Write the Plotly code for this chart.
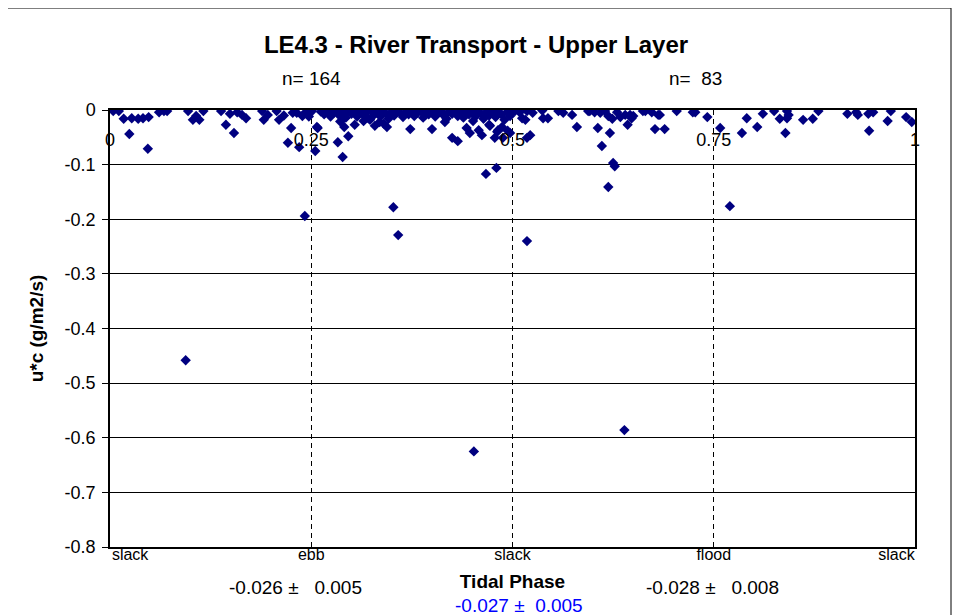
import plotly.graph_objects as go

# ---- data (tidal phase, u*c flux) ----
phase_q1 = [0.004, 0.011, 0.017, 0.024, 0.027, 0.035, 0.041, 0.047, 0.048, 0.061,
            0.067, 0.071, 0.094, 0.097, 0.103, 0.107, 0.111, 0.116, 0.138, 0.144,
            0.149, 0.154, 0.158, 0.164, 0.169, 0.189, 0.191, 0.196, 0.207, 0.210,
            0.225, 0.227, 0.221, 0.235, 0.251, 0.255, 0.257, 0.242, 0.232, 0.239,
            0.243, 0.267, 0.216, 0.247]
flux_q1 = [-0.002, -0.002, -0.016, -0.044, -0.015, -0.016, -0.015, -0.071, -0.013, -0.004,
           -0.002, -0.002, -0.458, -0.002, -0.018, -0.011, -0.018, -0.002, -0.002, -0.027,
           -0.007, -0.042, -0.004, -0.009, -0.015, -0.002, -0.018, -0.009, -0.002, -0.018,
           -0.033, -0.005, -0.060, -0.068, -0.002, -0.075, -0.031, -0.194, -0.005, -0.011,
           -0.004, -0.005, -0.010, -0.012]

phase_q2_band = [0.262, 0.266, 0.270, 0.274, 0.278, 0.282, 0.285, 0.289, 0.293, 0.296,
                 0.300, 0.304, 0.307, 0.311, 0.314, 0.318, 0.321, 0.325, 0.328, 0.332,
                 0.336, 0.339, 0.343, 0.346, 0.350, 0.353, 0.357, 0.361, 0.364, 0.368,
                 0.371, 0.375, 0.378, 0.382, 0.386, 0.389, 0.393, 0.396, 0.400, 0.404,
                 0.407, 0.411, 0.414, 0.418, 0.421, 0.425, 0.429, 0.432, 0.436, 0.439,
                 0.443, 0.446, 0.450, 0.454, 0.457, 0.461, 0.464, 0.468, 0.471, 0.475,
                 0.479, 0.482, 0.486, 0.490, 0.493, 0.497, 0.500]
flux_q2_band = [-0.003, -0.008, -0.002, -0.012, -0.005, -0.002, -0.010, -0.004, -0.014, -0.002,
                -0.007, -0.003, -0.012, -0.002, -0.008, -0.004, -0.015, -0.002, -0.009, -0.004,
                -0.012, -0.002, -0.007, -0.016, -0.003, -0.010, -0.002, -0.006, -0.013, -0.003,
                -0.008, -0.002, -0.011, -0.005, -0.002, -0.014, -0.004, -0.008, -0.002, -0.012,
                -0.005, -0.002, -0.009, -0.016, -0.003, -0.007, -0.002, -0.011, -0.004, -0.014,
                -0.002, -0.008, -0.004, -0.012, -0.002, -0.007, -0.016, -0.003, -0.010, -0.005,
                -0.013, -0.002, -0.008, -0.018, -0.004, -0.011, -0.003]

phase_q2 = [0.258, 0.291, 0.296, 0.283, 0.289, 0.304, 0.323, 0.329, 0.335, 0.344,
            0.373, 0.400, 0.416, 0.425, 0.432, 0.443, 0.451, 0.462, 0.472, 0.481,
            0.487, 0.478, 0.488, 0.447, 0.471, 0.482, 0.497, 0.352, 0.358, 0.452,
            0.467, 0.480, 0.286, 0.315, 0.340, 0.458]
flux_q2 = [-0.033, -0.031, -0.048, -0.059, -0.086, -0.027, -0.018, -0.029, -0.022, -0.031,
           -0.035, -0.035, -0.022, -0.051, -0.057, -0.033, -0.020, -0.046, -0.029, -0.040,
           -0.031, -0.051, -0.051, -0.042, -0.027, -0.037, -0.042, -0.178, -0.229, -0.625,
           -0.117, -0.106, -0.021, -0.020, -0.025, -0.037]

phase_h2 = [0.494, 0.516, 0.522, 0.518, 0.512, 0.538, 0.544, 0.580, 0.606, 0.621,
            0.611, 0.643, 0.648, 0.677, 0.689, 0.683, 0.742, 0.704, 0.727, 0.662,
            0.596, 0.625, 0.627, 0.619, 0.518, 0.639, 0.770,
            0.503, 0.509, 0.518, 0.525, 0.537, 0.557, 0.563, 0.574, 0.594, 0.602,
            0.609, 0.615, 0.619, 0.624, 0.630, 0.634, 0.640, 0.646, 0.650, 0.665,
            0.673, 0.681, 0.724,
            0.758, 0.785, 0.791, 0.804, 0.811, 0.825, 0.832, 0.839, 0.841, 0.841,
            0.843, 0.861, 0.873, 0.880, 0.916, 0.927, 0.929, 0.942, 0.943, 0.948,
            0.966, 0.970, 0.989, 0.996]
flux_h2 = [-0.038, -0.018, -0.046, -0.051, -0.015, -0.015, -0.015, -0.031, -0.033, -0.042,
           -0.066, -0.027, -0.015, -0.035, -0.035, -0.009, -0.013, -0.002, -0.004, -0.002,
           -0.002, -0.097, -0.103, -0.141, -0.240, -0.586, -0.176,
           -0.002, -0.004, -0.002, -0.005, -0.001, -0.002, -0.005, -0.009, -0.002, -0.004,
           -0.005, -0.002, -0.011, -0.016, -0.004, -0.013, -0.009, -0.009, -0.011, -0.002,
           -0.004, -0.009, -0.004,
           -0.033, -0.042, -0.015, -0.031, -0.007, -0.002, -0.016, -0.042, -0.002, -0.015,
           -0.009, -0.018, -0.016, -0.002, -0.007, -0.004, -0.009, -0.007, -0.038, -0.004,
           -0.020, -0.002, -0.013, -0.022]

phase = phase_q1 + phase_q2_band + phase_q2 + phase_h2
flux = flux_q1 + flux_q2_band + flux_q2 + flux_h2

x_ticks = [0, 0.25, 0.5, 0.75, 1]
x_ticklabels = ["0", "0.25", "0.5", "0.75", "1"]
phase_names_pos = [0.025, 0.25, 0.5, 0.75, 0.977]
phase_names = ["slack", "ebb", "slack", "flood", "slack"]
y_ticks = [0, -0.1, -0.2, -0.3, -0.4, -0.5, -0.6, -0.7, -0.8]
y_ticklabels = ["0", "-0.1", "-0.2", "-0.3", "-0.4", "-0.5", "-0.6", "-0.7", "-0.8"]

title_text = "LE4.3 - River Transport - Upper Layer"
n_labels = ["n=\u00a0164", "n=\u00a0\u00a083"]
stats_ebb = "-0.026\u00a0±\u00a0\u00a0\u00a00.005"
stats_flood = "-0.028\u00a0±\u00a0\u00a0\u00a00.008"
stats_all = "-0.027\u00a0±\u00a0\u00a00.005"

FONT = "Liberation Sans, Arial, sans-serif"
OFF = 8                      # page body margin of the browser
SL, ST = 110, 110            # plot area top-left on screen
W, H = 805, 437              # plot area size
L, T = SL - OFF, ST - OFF    # margins in figure coordinates

fig = go.Figure()
fig.add_trace(go.Scatter(
    x=phase, y=flux, mode="markers",
    marker=dict(symbol="diamond", size=8, color="#000080", line=dict(width=0)),
    showlegend=False, xaxis="x", yaxis="y"))
# carrier trace for the phase-name axis (out of range, invisible)
fig.add_trace(go.Scatter(x=[0, 1], y=[-2, -2], mode="markers",
                         marker=dict(size=1, opacity=0), showlegend=False,
                         hoverinfo="skip", xaxis="x2", yaxis="y"))


def ann(text, px, py, size, color="black"):
    # px, py: screen position of the text centre
    return dict(text=text, x=(px - SL) / W, y=1 - (py - ST) / H, xref="paper", yref="paper",
                xanchor="center", yanchor="middle", showarrow=False,
                font=dict(size=size, family=FONT, color=color))


fig.update_layout(
    width=961, height=615,
    margin=dict(l=L, r=961 - L - W, t=T, b=615 - T - H, autoexpand=False),
    paper_bgcolor="white", plot_bgcolor="white",
    font=dict(family=FONT, color="black"),
    title=dict(text="<b>" + title_text + "</b>", x=(476 - OFF) / 961, xref="container",
               xanchor="center", y=1 - (45 - OFF) / 615, yref="container", yanchor="middle",
               font=dict(size=24, family=FONT, color="black")),
    xaxis=dict(range=[0, 1], side="top", anchor="y", automargin=False,
               tickvals=x_ticks, ticktext=x_ticklabels,
               ticklabelposition="inside", ticklabeloverflow="allow",
               ticklabelstandoff=24, ticks="",
               tickfont=dict(size=18, family=FONT, color="black"),
               showgrid=True, gridcolor="black", griddash="5px,4px", gridwidth=1,
               showline=True, linecolor="black", linewidth=2, mirror=True,
               zeroline=False),
    xaxis2=dict(range=[0, 1], overlaying="x", side="bottom", anchor="free",
                position=4 / H, automargin=False,
                tickvals=phase_names_pos, ticktext=phase_names, ticks="",
                tickfont=dict(size=16, family=FONT, color="black"),
                showgrid=False, showline=False, zeroline=False,
                title=dict(text="<b>Tidal Phase</b>", standoff=12,
                           font=dict(size=19, family=FONT, color="black"))),
    yaxis=dict(range=[-0.8, 0], tickvals=y_ticks, ticktext=y_ticklabels,
               automargin=False,
               ticks="outside", ticklen=6, tickcolor="black", ticklabelstandoff=3,
               tickfont=dict(size=18, family=FONT, color="black"),
               showgrid=True, gridcolor="black", gridwidth=1,
               showline=True, linecolor="black", linewidth=1.5, mirror=True,
               zeroline=False,
               title=dict(text="<b>u*c (g/m2/s)</b>", standoff=16,
                          font=dict(size=19, family=FONT, color="black"))),
    shapes=[dict(type="rect", xref="paper", yref="paper",
                 x0=(7 - SL) / W, x1=(951 - SL) / W,
                 y0=-0.25, y1=1 + (ST - 8) / H,
                 line=dict(color="black", width=1), fillcolor="rgba(0,0,0,0)",
                 layer="below")],
    annotations=[
        ann(n_labels[0], 311, 78, 19),
        ann(n_labels[1], 695, 78, 19),
        ann(stats_ebb, 295, 587, 19),
        ann(stats_flood, 712, 587, 19),
        ann(stats_all, 519, 605, 19, "#0000FF"),
    ],
)

fig.write_html("out.html")
